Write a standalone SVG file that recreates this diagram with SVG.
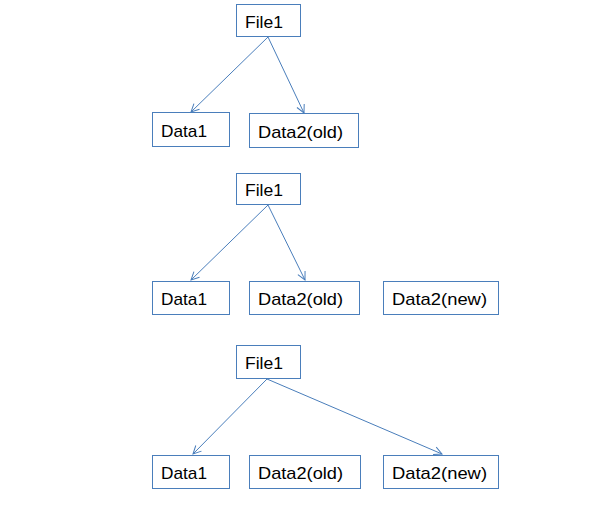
<svg xmlns="http://www.w3.org/2000/svg" width="600" height="532" viewBox="0 0 600 532">
<style>
.box{fill:#ffffff;stroke:#4a7ebb;stroke-width:1}
.t{font-family:"Liberation Sans",Arial,sans-serif;font-size:17px;fill:#000000}
.c{fill:none;stroke:#4a7ebb;stroke-width:1;marker-end:url(#arr)}
</style>
<defs>
<marker id="arr" markerUnits="userSpaceOnUse" markerWidth="12" markerHeight="12" refX="9" refY="5" orient="auto">
<path d="M1,1 L9,5 L1,9" fill="none" stroke="#4a7ebb" stroke-width="1"/>
</marker>
</defs>
<rect width="600" height="532" fill="#ffffff"/>
<g id="connectors">
<line class="c" x1="268" y1="37" x2="191" y2="112"/>
<line class="c" x1="268" y1="37" x2="304" y2="113"/>
<line class="c" x1="268" y1="205" x2="191" y2="280"/>
<line class="c" x1="268" y1="205" x2="305" y2="280"/>
<line class="c" x1="267" y1="379" x2="193" y2="454"/>
<line class="c" x1="267" y1="379" x2="442" y2="454"/>
</g>
<g id="file1-a"><rect class="box" x="236.5" y="4.5" width="64" height="32"/><text class="t" x="245" y="28" textLength="38" lengthAdjust="spacingAndGlyphs">File1</text></g>
<g id="data1-a"><rect class="box" x="152.5" y="112.5" width="77" height="34"/><text class="t" x="161" y="137" textLength="46" lengthAdjust="spacingAndGlyphs">Data1</text></g>
<g id="data2old-a"><rect class="box" x="249.5" y="113.5" width="109" height="34"/><text class="t" x="258" y="138" textLength="85" lengthAdjust="spacingAndGlyphs">Data2(old)</text></g>

<g id="file1-b"><rect class="box" x="236.5" y="173.5" width="64" height="31"/><text class="t" x="245" y="196" textLength="38" lengthAdjust="spacingAndGlyphs">File1</text></g>
<g id="data1-b"><rect class="box" x="152.5" y="281.5" width="77" height="33"/><text class="t" x="161" y="305" textLength="46" lengthAdjust="spacingAndGlyphs">Data1</text></g>
<g id="data2old-b"><rect class="box" x="249.5" y="281.5" width="110" height="33"/><text class="t" x="258" y="305" textLength="85" lengthAdjust="spacingAndGlyphs">Data2(old)</text></g>
<g id="data2new-b"><rect class="box" x="383.5" y="281.5" width="115" height="33"/><text class="t" x="392" y="305" textLength="95" lengthAdjust="spacingAndGlyphs">Data2(new)</text></g>

<g id="file1-c"><rect class="box" x="236.5" y="345.5" width="64" height="33"/><text class="t" x="245" y="369" textLength="38" lengthAdjust="spacingAndGlyphs">File1</text></g>
<g id="data1-c"><rect class="box" x="152.5" y="455.5" width="77" height="33"/><text class="t" x="161" y="479" textLength="46" lengthAdjust="spacingAndGlyphs">Data1</text></g>
<g id="data2old-c"><rect class="box" x="249.5" y="455.5" width="111" height="33"/><text class="t" x="258" y="479" textLength="85" lengthAdjust="spacingAndGlyphs">Data2(old)</text></g>
<g id="data2new-c"><rect class="box" x="383.5" y="455.5" width="115" height="33"/><text class="t" x="392" y="479" textLength="95" lengthAdjust="spacingAndGlyphs">Data2(new)</text></g>
</svg>
